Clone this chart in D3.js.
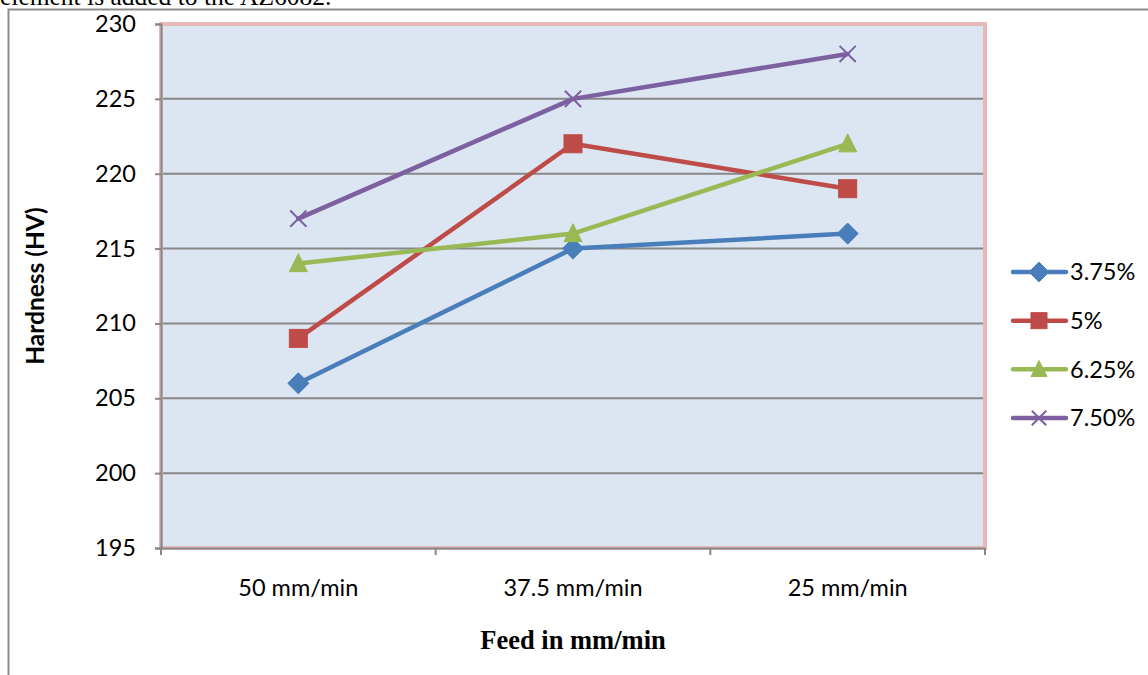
<!DOCTYPE html>
<html>
<head>
<meta charset="utf-8">
<script src="https://cdn.jsdelivr.net/npm/d3@7"></script>
<style>
  html, body { margin: 0; padding: 0; background: #ffffff; }
  svg { display: block; }
</style>
</head>
<body>
<svg id="chart" width="1148" height="675"></svg>
<script>
// Feed-rate categories and hardness readings per reinforcement level
const categories = ["50 mm/min", "37.5 mm/min", "25 mm/min"];
const seriesNames = ["3.75%", "5%", "6.25%", "7.50%"];
const hardness375 = [206, 215, 216];
const hardness500 = [209, 222, 219];
const hardness625 = [214, 216, 222];
const hardness750 = [217, 225, 228];
const yTicks = [195, 200, 205, 210, 215, 220, 225, 230];

const seriesValues = [hardness375, hardness500, hardness625, hardness750];
const colors = ["#4a7ebb", "#be4b48", "#98b954", "#7d60a0"];
const markers = ["diamond", "square", "triangle", "cross"];

const svg = d3.select("#chart");
const plot = { left: 161, right: 985, top: 24, bottom: 548 };

// caption text running above the figure
svg.append("text")
  .attr("x", 0).attr("y", 5)
  .attr("font-family", "'Liberation Serif', 'Times New Roman', serif")
  .attr("font-size", 25.5)
  .attr("fill", "#000")
  .text("element is added to the AZ6082.");

// outer frame (left and top)
svg.append("path")
  .attr("d", "M8.5,675 L8.5,9.5 L1148,9.5")
  .attr("fill", "none").attr("stroke", "#8c8c8c").attr("stroke-width", 2);

const x = d3.scaleBand().domain(categories).range([plot.left, plot.right]).padding(0);
const cx = c => x(c) + x.bandwidth() / 2;
const y = d3.scaleLinear().domain([195, 230]).range([plot.bottom, plot.top]);

// plot area
svg.append("rect")
  .attr("x", plot.left).attr("y", plot.top)
  .attr("width", plot.right - plot.left).attr("height", plot.bottom - plot.top)
  .attr("fill", "#dce6f2");

// horizontal gridlines
svg.append("g")
  .selectAll("line")
  .data(yTicks.filter(t => t > 195 && t < 230))
  .join("line")
  .attr("x1", plot.left).attr("x2", plot.right)
  .attr("y1", d => y(d)).attr("y2", d => y(d))
  .attr("stroke", "#878787").attr("stroke-width", 2);

// plot area border
svg.append("rect")
  .attr("x", plot.left).attr("y", plot.top)
  .attr("width", plot.right - plot.left).attr("height", plot.bottom - plot.top)
  .attr("fill", "none")
  .attr("stroke", "#e6b9b8").attr("stroke-width", 4);

const labelFont = "Lato, 'Open Sans', sans-serif";
const labelSize = 23.5;

// y axis
const yAxis = d3.axisLeft(y).tickValues(yTicks).tickSize(6).tickPadding(19);
const gy = svg.append("g").attr("transform", `translate(${plot.left},0)`).call(yAxis);
gy.select(".domain").attr("stroke", "#878787").attr("stroke-width", 2);
gy.selectAll(".tick line").attr("stroke", "#878787").attr("stroke-width", 2);
gy.selectAll(".tick text")
  .attr("font-family", labelFont).attr("font-size", labelSize).attr("fill", "#000");

// x axis with ticks at the category boundaries
const xAxis = d3.axisBottom(x).tickSize(0).tickPadding(31);
const gx = svg.append("g").attr("transform", `translate(0,${plot.bottom})`).call(xAxis);
gx.select(".domain").attr("stroke", "#878787").attr("stroke-width", 2);
gx.selectAll(".tick text")
  .attr("font-family", labelFont).attr("font-size", labelSize).attr("fill", "#000");
const boundaries = categories.map(c => x(c)).concat([x(categories[categories.length - 1]) + x.bandwidth()]);
gx.selectAll(".bound")
  .data(boundaries)
  .join("line")
  .attr("class", "bound")
  .attr("x1", d => d).attr("x2", d => d)
  .attr("y1", 0).attr("y2", 7)
  .attr("stroke", "#878787").attr("stroke-width", 2);

// axis titles
svg.append("text")
  .attr("transform", `translate(44,${(plot.top + plot.bottom) / 2}) rotate(-90)`)
  .attr("text-anchor", "middle")
  .attr("font-family", labelFont).attr("font-weight", "bold").attr("font-size", 24.5)
  .text("Hardness (HV)");

svg.append("text")
  .attr("x", cx(categories[1])).attr("y", 649)
  .attr("text-anchor", "middle")
  .attr("font-family", "'Liberation Serif', 'Times New Roman', serif")
  .attr("font-weight", "bold").attr("font-size", 26.5)
  .text("Feed in mm/min");

// marker drawing
function drawMarker(g, type, color, px, py, s) {
  if (type === "diamond") {
    g.append("path")
      .attr("d", `M${px},${py - s * 0.62} L${px + s * 0.62},${py} L${px},${py + s * 0.62} L${px - s * 0.62},${py} Z`)
      .attr("fill", color).attr("stroke", color).attr("stroke-width", 1).attr("stroke-linejoin", "round");
  } else if (type === "square") {
    g.append("rect")
      .attr("x", px - s / 2).attr("y", py - s / 2)
      .attr("width", s).attr("height", s)
      .attr("fill", color).attr("stroke", color).attr("stroke-width", 1);
  } else if (type === "triangle") {
    g.append("path")
      .attr("d", `M${px},${py - s * 0.55} L${px + s * 0.5},${py + s * 0.45} L${px - s * 0.5},${py + s * 0.45} Z`)
      .attr("fill", color).attr("stroke", color).attr("stroke-width", 1);
  } else {
    const h = s * 0.45;
    g.append("path")
      .attr("d", `M${px - h},${py - h} L${px + h},${py + h} M${px - h},${py + h} L${px + h},${py - h}`)
      .attr("stroke", color).attr("stroke-width", 2).attr("fill", "none");
  }
}

const line = d3.line().x((d, i) => cx(categories[i])).y(d => y(d));
const markerSize = [17, 18, 18, 18];

seriesValues.forEach((vals, k) => {
  const g = svg.append("g");
  g.append("path")
    .datum(vals)
    .attr("d", line)
    .attr("fill", "none")
    .attr("stroke", colors[k]).attr("stroke-width", 4.5)
    .attr("stroke-linejoin", "round").attr("stroke-linecap", "round");
  vals.forEach((v, i) => drawMarker(g, markers[k], colors[k], cx(categories[i]), y(v), markerSize[k]));
});

// legend
const legendY = d3.scalePoint().domain(seriesNames).range([272, 418]);
seriesNames.forEach((name, k) => {
  const g = svg.append("g");
  const ly = legendY(name);
  g.append("line")
    .attr("x1", 1013).attr("x2", 1066).attr("y1", ly).attr("y2", ly)
    .attr("stroke", colors[k]).attr("stroke-width", 4.5).attr("stroke-linecap", "round");
  drawMarker(g, markers[k], colors[k], 1039, ly, 16);
  g.append("text")
    .attr("x", 1070).attr("y", ly).attr("dy", "0.35em")
    .attr("font-family", labelFont).attr("font-size", labelSize)
    .text(name);
});
</script>
</body>
</html>
